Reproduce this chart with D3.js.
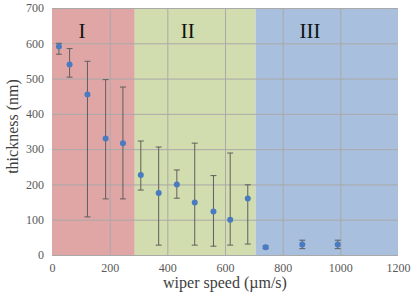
<!DOCTYPE html>
<html>
<head>
<meta charset="utf-8">
<script src="https://cdn.jsdelivr.net/npm/d3@7"></script>
<style>
  body { margin: 0; background: #fff; }
</style>
</head>
<body>
<div id="chart"></div>
<script>
// Data
const speeds    = [24, 61, 123, 186, 246, 308, 370, 433, 495, 560, 618, 679, 741, 868, 991];
const thickness = [591, 540, 455, 330, 317, 227, 176, 200, 149, 123, 100, 160, 22, 30, 30];
const errTop    = [600, 585, 549, 497, 476, 323, 306, 241, 317, 225, 289, 199, 26, 42, 42];
const errBottom = [569, 504, 108, 159, 159, 184, 28, 161, 28, 25, 28, 31, 18, 18, 18];

const regionNames  = ["I", "II", "III"];
const regionStarts = [0, 287, 706];
const regionEnds   = [287, 706, 1200];
const regionLabelX = [104, 471, 895];
const regionColors = ["#e0a6a6", "#d1ddae", "#a8bfdd"];

const xTicks = [0, 200, 400, 600, 800, 1000, 1200];
const yTicks = [0, 100, 200, 300, 400, 500, 600, 700];

const FONT = "'Liberation Serif', 'DejaVu Serif', serif";

const W = 415, H = 303;
const margin = { top: 8, right: 17, bottom: 48, left: 52 };
const width  = W - margin.left - margin.right;
const height = H - margin.top - margin.bottom;

const svg = d3.select("#chart")
  .append("svg")
    .attr("width", W)
    .attr("height", H)
  .append("g")
    .attr("transform", `translate(${margin.left},${margin.top})`);

const x = d3.scaleLinear().domain([0, 1200]).range([0, width]);
const y = d3.scaleLinear().domain([0, 700]).range([height, 0]);

// Shaded regions
svg.selectAll(".region")
  .data(regionNames)
  .join("rect")
    .attr("class", "region")
    .attr("x", (d, i) => x(regionStarts[i]))
    .attr("width", (d, i) => x(regionEnds[i]) - x(regionStarts[i]))
    .attr("y", 0)
    .attr("height", height)
    .attr("fill", (d, i) => regionColors[i]);

// Gridlines
svg.append("g")
  .call(d3.axisLeft(y).tickValues(yTicks).tickSize(-width).tickFormat(""))
  .call(g => g.select(".domain").remove())
  .call(g => g.selectAll("line").attr("stroke", "#a9a9a9").attr("stroke-width", 1));

svg.append("g")
  .call(d3.axisBottom(x).tickValues(xTicks.slice(1, -1)).tickSize(height).tickFormat(""))
  .call(g => g.select(".domain").remove())
  .call(g => g.selectAll("line").attr("stroke", "#a9a9a9").attr("stroke-width", 1));

// Tick labels
svg.append("g")
  .call(d3.axisLeft(y).tickValues(yTicks).tickSize(0).tickPadding(8).tickFormat(d3.format("d")))
  .attr("font-family", FONT)
  .call(g => g.select(".domain").remove())
  .call(g => g.selectAll("text")
    .attr("fill", "#595959")
    .style("font-size", "12px"));

svg.append("g")
  .attr("transform", `translate(0,${height})`)
  .call(d3.axisBottom(x).tickValues(xTicks).tickSize(0).tickPadding(8).tickFormat(d3.format("d")))
  .attr("font-family", FONT)
  .call(g => g.select(".domain").remove())
  .call(g => g.selectAll("text")
    .attr("fill", "#595959")
    .style("font-size", "12px"));

// Region labels
svg.selectAll(".region-label")
  .data(regionNames)
  .join("text")
    .attr("class", "region-label")
    .attr("x", (d, i) => x(regionLabelX[i]))
    .attr("y", 30)
    .attr("text-anchor", "middle")
    .attr("fill", "#111")
    .style("font-family", FONT)
    .style("font-size", "21px")
    .text(d => d);

// Error bars
const bars = svg.selectAll(".err")
  .data(speeds)
  .join("g")
    .attr("class", "err")
    .attr("stroke", "#5f5f5f")
    .attr("stroke-width", 1);

bars.append("line")
  .attr("x1", d => x(d)).attr("x2", d => x(d))
  .attr("y1", (d, i) => y(errTop[i]))
  .attr("y2", (d, i) => y(errBottom[i]));

bars.append("line")
  .attr("x1", d => x(d) - 3).attr("x2", d => x(d) + 3)
  .attr("y1", (d, i) => y(errTop[i])).attr("y2", (d, i) => y(errTop[i]));

bars.append("line")
  .attr("x1", d => x(d) - 3).attr("x2", d => x(d) + 3)
  .attr("y1", (d, i) => y(errBottom[i])).attr("y2", (d, i) => y(errBottom[i]));

// Markers
svg.selectAll(".pt")
  .data(speeds)
  .join("circle")
    .attr("class", "pt")
    .attr("cx", d => x(d))
    .attr("cy", (d, i) => y(thickness[i]))
    .attr("r", 3)
    .attr("fill", "#4a7ac0");

// Axis titles
svg.append("text")
  .attr("x", width / 2)
  .attr("y", height + 33)
  .attr("text-anchor", "middle")
  .attr("fill", "#404040")
  .style("font-family", FONT)
  .style("font-size", "16px")
  .text("wiper speed (\u00b5m/s)");

svg.append("text")
  .attr("transform", "rotate(-90)")
  .attr("x", -height / 2 + 5)
  .attr("y", -34)
  .attr("text-anchor", "middle")
  .attr("fill", "#404040")
  .style("font-family", FONT)
  .style("font-size", "16px")
  .text("thickness (nm)");
</script>
</body>
</html>
